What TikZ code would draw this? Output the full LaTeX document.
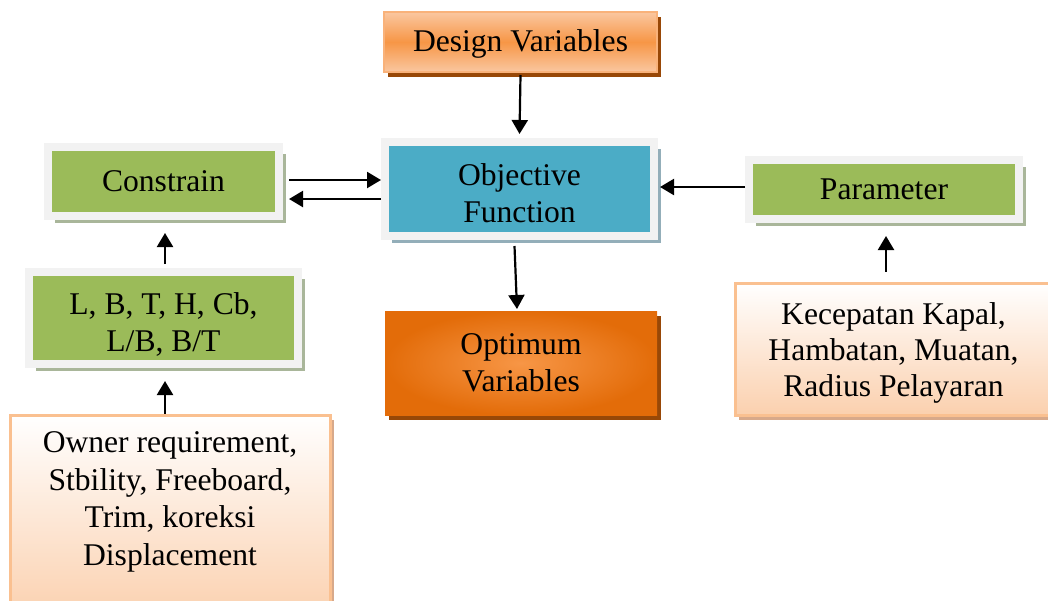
\documentclass[tikz,border=0pt]{standalone}
\usepackage{fontspec}
\setmainfont{Liberation Serif}
\usepackage{tikz}
\usetikzlibrary{arrows.meta,shadows}
\definecolor{framegray}{HTML}{F2F2F2}
\definecolor{greenfill}{HTML}{9BBB59}
\definecolor{greenshadow}{HTML}{A9B69A}
\definecolor{bluefill}{HTML}{4BACC6}
\definecolor{blueshadow}{HTML}{93AEB9}
\definecolor{orangeline}{HTML}{F9B27A}
\definecolor{orangelight}{HTML}{FAC7A0}
\definecolor{orangemid}{HTML}{F79646}
\definecolor{orangedark}{HTML}{E36C09}
\definecolor{brownshadow}{HTML}{984807}
\definecolor{peachline}{HTML}{FAC090}
\definecolor{peachfill}{HTML}{FBD0AE}
\definecolor{peachshadow}{HTML}{D8A98A}

\begin{document}
\begin{tikzpicture}
    [
      x = 0.5pt, y = -0.5pt,
      every node/.style = {font=\fontsize{15.8}{18.7}\selectfont, align=center, inner sep=0pt},
      framebox/.style = {draw=framegray, line width=4pt,
        drop shadow={shadow xshift=3.5pt, shadow yshift=-3.5pt, fill=#1, opacity=1}},
      greenbox/.style = {framebox=greenshadow, fill=greenfill},
      bluebox/.style = {framebox=blueshadow, fill=bluefill},
      orangebox/.style = {draw=orangeline, line width=1pt,
        drop shadow={shadow xshift=2pt, shadow yshift=-2.5pt, fill=brownshadow, opacity=1}},
      peachbox/.style = {draw=peachline, line width=1.5pt, top color=white, bottom color=peachfill,
        drop shadow={shadow xshift=2pt, shadow yshift=-2.5pt, fill=peachshadow, opacity=1}},
      arrow/.style = {line width=1.1pt, -{Triangle[length=7pt,width=8pt]}},
    ]
   
    \useasboundingbox (0,0) rectangle (1048,600);

    \node[orangebox, top color=orangelight, bottom color=orangelight, middle color=orangemid,
      minimum width=136.5pt, minimum height=30pt, text depth=1.4pt] (design) at (520.5,42) {Design Variables};
    \node[bluebox, minimum width=134.5pt, minimum height=47pt, text height=33.5pt, text depth=0pt] (objective) at (519.5,189) {Objective\\Function};
    \node[greenbox, minimum width=115.5pt, minimum height=34.5pt] (constrain) at (163.5,181.5) {Constrain};
    \node[greenbox, minimum width=135pt, minimum height=29.5pt, text depth=0.4pt] (parameter) at (884,189.5) {Parameter};
    \node[greenbox, minimum width=134.5pt, minimum height=46pt, text height=33.5pt, text depth=0pt] (lbt) at (163.5,318) {L, B, T, H, Cb,\\L/B, B/T};
    \node[orangebox, draw=none, inner color=orangemid, outer color=orangedark,
      minimum width=136pt, minimum height=52pt] (optimum) at (521,363) {Optimum\\Variables};
    \node[peachbox, minimum width=160pt, minimum height=102.5pt, text depth=19pt] (owner) at (170,517.5)
      {Owner requirement,\\Stbility, Freeboard,\\Trim, koreksi\\Displacement};
    \node[peachbox, minimum width=158.5pt, minimum height=66pt, font=\fontsize{15.8}{17.8}\selectfont,
      text height=47pt, text depth=0pt] (kecepatan) at (893.5,349)
      {Kecepatan Kapal,\\Hambatan, Muatan,\\Radius Pelayaran};

    \draw[arrow] ([yshift=-1pt]design.south) -- ([yshift=2pt]objective.north);
    \draw[arrow] ([xshift=3pt,yshift=0.75pt]constrain.east) -- ([yshift=4.5pt]objective.west);
    \draw[arrow] ([yshift=-5pt]objective.west) -- ([xshift=3pt,yshift=-8.75pt]constrain.east);
    \draw[arrow] ([yshift=1.25pt]parameter.west) -- ([xshift=1pt,yshift=1pt]objective.east);
    \draw[arrow] ([xshift=-2.5pt,yshift=-3pt]objective.south) -- ([xshift=-2pt,yshift=0.5pt]optimum.north);
    \draw[arrow] ([xshift=0.75pt,yshift=2pt]lbt.north) -- ([xshift=0.75pt,yshift=-6.5pt]constrain.south);
    \draw[arrow] ([xshift=-2.5pt]owner.north) -- ([xshift=0.75pt,yshift=-6.5pt]lbt.south);
    \draw[arrow] ([xshift=-3.75pt,yshift=5pt]kecepatan.north) -- ([xshift=1pt,yshift=-6.5pt]parameter.south);
  \end{tikzpicture}
\end{document}
